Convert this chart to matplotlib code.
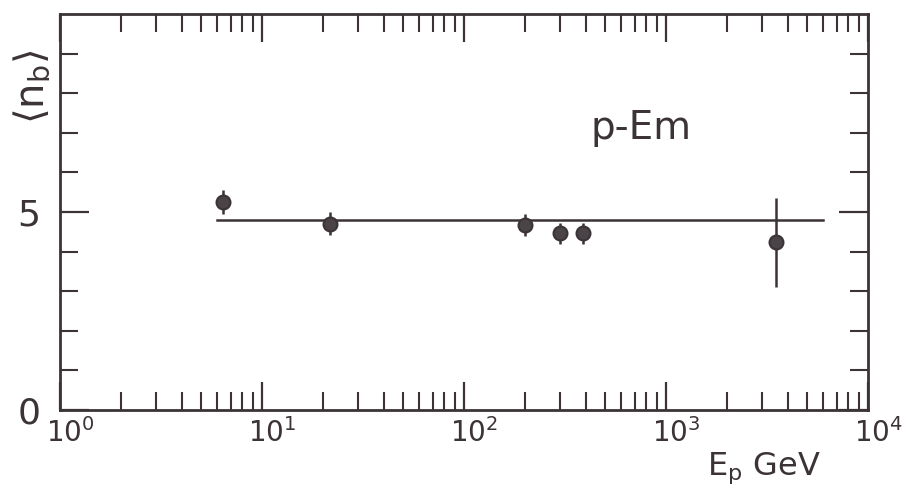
import numpy as np
import matplotlib
matplotlib.use("Agg")
import matplotlib.pyplot as plt
from matplotlib.ticker import FixedLocator, LogLocator, NullFormatter
import matplotlib.transforms as mtransforms

# Data
energy = [6.4, 21.7, 200, 300, 390, 3500]
nb_mean = [5.26, 4.70, 4.67, 4.46, 4.46, 4.23]
nb_err = [0.30, 0.29, 0.27, 0.27, 0.27, 1.12]
fit_x = [6.0, 6000.0]
fit_y = [4.80, 4.80]

ink = '#3b3336'
plt.rcParams['font.family'] = ['DejaVu Sans']
plt.rcParams['mathtext.fontset'] = 'dejavusans'

fig = plt.figure(figsize=(9.06, 4.90), dpi=100)
ax = fig.add_axes([60/906, 80/490, 808/906, 396/490])

ax.plot(fit_x, fit_y, color=ink, lw=1.8)
ax.errorbar(energy, nb_mean, yerr=nb_err, fmt='o', color=ink, ms=10,
            mfc='#4a4448', mec=ink, mew=1.5, elinewidth=1.8, capsize=0)

ax.set_xscale('log')
ax.set_xlim(1, 1e4)
ax.set_ylim(0, 10)

for s in ax.spines.values():
    s.set_color(ink)
    s.set_linewidth(2)

ax.xaxis.set_major_locator(FixedLocator([1, 10, 100, 1000, 10000]))
ax.xaxis.set_minor_locator(LogLocator(base=10, subs=np.arange(2, 10), numticks=20))
ax.xaxis.set_minor_formatter(NullFormatter())
ax.set_xticklabels([r'$10^0$', r'$10^1$', r'$10^2$', r'$10^3$', r'$10^4$'])

ax.yaxis.set_major_locator(FixedLocator([0, 5]))
ax.yaxis.set_minor_locator(FixedLocator([1, 2, 3, 4, 6, 7, 8, 9]))
ax.set_yticklabels(['0', '5'])

ax.tick_params(which='both', direction='in', top=True, right=True, color=ink)
ax.tick_params(axis='x', which='major', length=20, width=1.6, labelsize=20,
               pad=6, labelcolor=ink)
ax.tick_params(axis='x', which='minor', length=13, width=1.5)
ax.tick_params(axis='y', which='major', length=21, width=1.6, labelsize=26,
               pad=14, labelcolor=ink)
ax.tick_params(axis='y', which='minor', length=13, width=1.5)

offset = mtransforms.ScaledTranslation(10/100, 0, fig.dpi_scale_trans)
for lbl in ax.get_xticklabels():
    lbl.set_transform(lbl.get_transform() + offset)

ax.text(0.656, 0.712, 'p-Em', transform=ax.transAxes, fontsize=28,
        color=ink, ha='left', va='center')

fig.text(32/906, 1 - 87/490, r'$\langle \mathrm{n_b} \rangle$', rotation=90,
         fontsize=29, color=ink, ha='center', va='center')
fig.text(764/906, 1 - 468/490, r'$\mathrm{E_p}$ GeV', fontsize=23,
         color=ink, ha='center', va='center')

fig.savefig('out.png', dpi=100)
